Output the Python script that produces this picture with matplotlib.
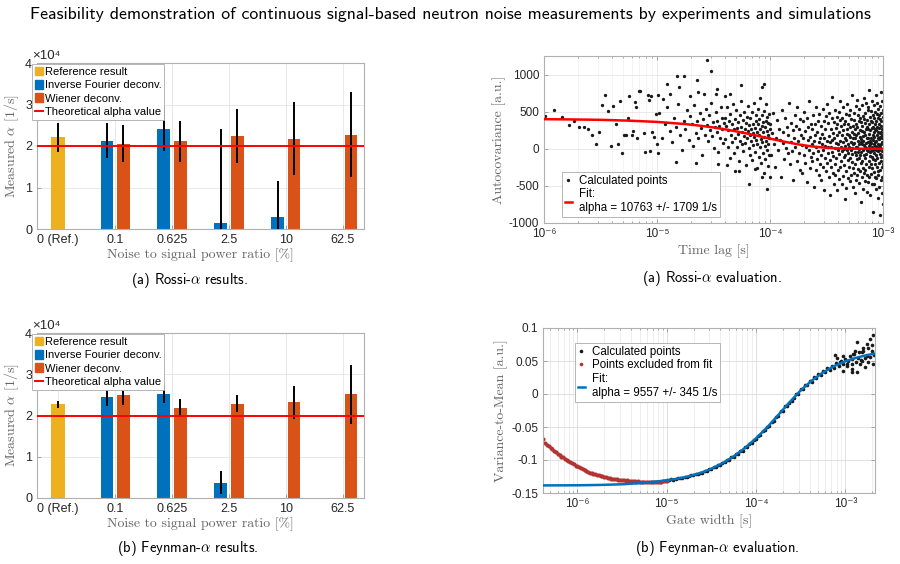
import numpy as np
import matplotlib
matplotlib.use("Agg")
import matplotlib.pyplot as plt
from matplotlib.ticker import FuncFormatter, LogLocator, NullFormatter, MultipleLocator
from matplotlib.lines import Line2D
from matplotlib.patches import Patch

plt.rcParams["font.family"] = ["Liberation Sans", "DejaVu Sans"]
plt.rcParams["mathtext.fontset"] = "cm"
plt.rcParams["axes.unicode_minus"] = False

# =========================
# DATA
# =========================

CATEGORIES = ["0 (Ref.)", "0.1", "0.625", "2.5", "10", "62.5"]
THEORY_ALPHA = 20000

# Rossi-alpha results [1/s]
rossi_ref, rossi_ref_err = 22100, 3500
rossi_ifd = [np.nan, 21300, 24000, 1500, 3000, np.nan]
rossi_ifd_err = [np.nan, 4300, 5300, 22500, 8600, np.nan]
rossi_wien = [np.nan, 20600, 21100, 22400, 21800, 22700]
rossi_wien_err = [np.nan, 4400, 5000, 6400, 8800, 10200]

# Feynman-alpha results [1/s]
feyn_ref, feyn_ref_err = 22700, 800
feyn_ifd = [np.nan, 24500, 25300, 3700, np.nan, np.nan]
feyn_ifd_err = [np.nan, 2200, 2200, 2800, np.nan, np.nan]
feyn_wien = [np.nan, 25000, 21900, 22900, 23200, 25100]
feyn_wien_err = [np.nan, 2400, 2200, 2100, 4000, 7200]

# Rossi-alpha evaluation: individually read points (log10 of lag, covariance)
rossi_sparse_lag_exp = [
    -5.99, -5.909, -5.84, -5.78, -5.735, -5.69, -5.646, -5.61, -5.573, -5.543,
    -5.513, -5.484, -5.457, -5.434, -5.41, -5.389, -5.365, -5.348, -5.33, -5.31,
    -5.292, -5.274, -5.257, -5.245, -5.224, -5.212, -5.197, -5.186, -5.174, -5.159,
    -5.148, -5.115, -5.106, -5.082, -5.068, -5.059, -5.05, -5.042, -5.024, -5.012,
    -5.003, -4.994, -4.988,
    -4.56, -4.525, -4.826, -4.758, -4.649, -4.803, -4.914, -4.944, -4.885, -4.708,
    -4.634, -4.581, -4.478, -4.472, -4.398, -4.354, -4.257, -4.068, -4.053,
    -4.832, -4.658, -4.457, -4.378, -4.31, -4.274, -4.19, -4.029, -4.073, -4.133,
]
rossi_sparse_cov = [
    441, 518, 428, 324, 370, 289, 289, 270, 189, 68,
    222, 594, 720, 505, 33, 580, 338, 60, 639, -53,
    185, 185, 410, 711, 189, 243, 630, 559, 141, 782,
    778, 212, -44, 728, 652, -30, 707, 226, 158, 464,
    68, -57, 720,
    1191, 1043, 976, 976, 922, 832, 876, 666, 742, 707,
    765, 742, 742, 809, 707, 734, 855, 832, 868,
    -178, -192, -205, -223, -304, -304, -471, -538, -380, -269,
]

# Rossi-alpha evaluation: covariance on the regular lag grid 1e-5 .. 1e-4 s
rossi_mid_cov = [
    480, 150, 330, 560, 240, 90, 420, 300, 610, 180,
    -20, 380, 260, 520, 120, 440, 330, 40, 590, 210,
    370, 150, 480, 280, -90, 400, 190, 530, 320, 100,
    450, 250, 620, 170, 360, 10, 290, 500, 220, 380,
    -40, 310, 140, 560, 260, 420, 80, 350,
    420, 130, 310, 560, 20, 250, 380, -120, 470, 190,
    330, 90, 610, 260, -60, 400, 150, 520, 280, 30,
    360, 200, -170, 450, 110, 300, 640, 60, 230, 390,
    -30, 170, 500, 270, 80, 350, -220, 430, 140, 240,
    580, 10, 320, 180, -90, 410, 260, 100, 490, -150,
    210, 340, 50, 620, 160, 280, -40, 380, 120, 460,
    -260, 230, 70, 330, 540, -110, 190, 400, 20, 270,
    680, 130, -190, 310, 90, 450, -60, 220, 360, -320,
    160, 510, 40, 290, -140, 380, 110, 600, -20, 240,
    430, -230, 180, 60, 350, -90, 470, 140, 270, -380,
]

# Rossi-alpha evaluation: covariance on the regular lag grid 1e-4 .. 1e-3 s
rossi_dense_cov = [
    340, -90, 210, 480, 60, -250, 150, 390, -20, 270, 120, -380, 520, 80, 230, -140, 410, 10, 300, -60,
    180, 620, -210, 90, 350, -30, 250, -420, 140, 460, 20, 310, -170, 560, 110, -60, 270, 400, -290, 190,
    50, -330, 380, 150, -80, 500, 240, -190, 30, 420, -450, 120, 290, -20, 640, -260, 160, 330, -110, 70,
    -170, 260, 450, -60, 100, -510, 340, 180, -280, 20, 560, -140, 230, -30, 380, -350, 90, 470, -200, 140,
    310, -90, -420, 200, 60, 530, -240, -10, 380, 150, -560, 270, -120, 40, 440, -300, 110, 600, -190, 20,
    -60, 350, -380, 170, 480, -150, 90, -620, 260, 30, -250, 410, 120, -40, 700, -330, 210, -100, 360, -470,
    140, -200, 520, 10, -350, 280, 80, -130, 430, -560, 190, 340, -20, -280, 60, 500, -410, 230, -70, 390,
    -240, 110, 650, -160, 20, 310, -480, 180, -30, 420, 250, -370, 90, 560, -110, 0, 330, -220, 150, -680,
    380, -90, 40, -300, 470, 120, -530, 260, -10, 200, 610, -150, -390, 70, 340, -60, 180, -250, 450, 30,
    -120, 290, -440, 160, 520, -20, 90, -360, 400, 230, -180, 730, -70, 10, -510, 310, 140, -260, 60, 480,
    200, -330, 80, 390, -40, -600, 260, 140, -210, 570, 30, -90, 340, -420, 180, 660, -140, 20, 300, -350,
    -50, 450, 110, -270, 210, 70, -460, 380, -130, 530, 0, -300, 160, 420, -80, 250, -720, 90, 360, -190,
    130, -40, 590, -380, 240, 60, -160, 310, -540, 170, 440, -20, -260, 100, 680, -330, 220, -90, 50, 400,
    -280, 190, 30, 480, -120, 350, -430, 80, 260, -70, 620, -200, 10, 390, -580, 150, -10, 300, -350, 520,
    90, -450, 270, 140, -30, 560, -240, 330, 40, -160, 790, -380, 200, 60, -100, 430, -620, 250, 110, -50,
    370, -200, -30, 510, 150, -340, 80, 280, -480, 20, 360, -110, 640, -260, 190, -10, 450, -850, 120, 300,
    -140, 420, 60, -310, 230, 590, -60, -470, 160, 340, -200, 40, 500, -380, 270, 90, -150, 720, -20, -540,
    250, -80, 380, 110, -400, 180, 470, -240, 30, 620, -130, 300, -660, 70, 220, -30, 410, -300, 150, 540,
    -360, 130, -10, 450, -190, 280, 50, -520, 340, 160, -70, 580, -290, 210, -890, 400, 20, -160, 310, 760,
    60, -420, 230, 480, -110, 370, -250, 140, -30, 650, -380, 90, 260, -600, 180, 430, -80, -210, 520, -740,
]

rossi_fit_lag_exp = [-6.0, -5.75, -5.5, -5.25, -5.0, -4.75, -4.625, -4.5, -4.375, -4.25,
                     -4.125, -4.0, -3.875, -3.75, -3.625, -3.5, -3.375, -3.25, -3.0]
rossi_fit_cov = [399, 395, 390, 379, 362, 333, 312, 287, 256, 220,
                 180, 137, 96, 59, 31, 13, 4, 1, 0]

# Feynman-alpha evaluation: excluded points, gate widths log-spaced 10^-6.38 .. 10^-5
feyn_excl_vtm = [
    -0.0675, -0.0748, -0.0775, -0.0792, -0.0819, -0.0835, -0.0862, -0.0879, -0.0907, -0.0924, -0.0948,
    -0.0960, -0.0982, -0.0994, -0.1017, -0.1029, -0.1052, -0.1063, -0.1085, -0.1093, -0.1112,
    -0.1120, -0.1139, -0.1147, -0.1166, -0.1175, -0.1192,
    -0.1198, -0.1211, -0.1213, -0.1226, -0.1229, -0.1241, -0.1244, -0.1256, -0.1258, -0.1270,
    -0.1275, -0.1286, -0.1284, -0.1295, -0.1293, -0.1303, -0.1301, -0.1309, -0.1306,
    -0.1313, -0.1309, -0.1318, -0.1314, -0.1322, -0.1318, -0.1326, -0.1322, -0.1329,
    -0.1326, -0.1333, -0.1328, -0.1335, -0.1330, -0.1336, -0.1331, -0.1337, -0.1330, -0.1334,
    -0.1327, -0.1330, -0.1322, -0.1325, -0.1317,
]

# Feynman-alpha evaluation: calculated points, gate widths log-spaced 10^-5 .. 10^-2.675
feyn_calc_vtm = [
    -0.1304, -0.1309, -0.1295, -0.1297, -0.1291, -0.1279, -0.1278, -0.1266, -0.1265, -0.1250,
    -0.1249, -0.1234, -0.1232, -0.1216, -0.1213, -0.1195, -0.1191, -0.1170, -0.1166, -0.1141,
    -0.1137, -0.1111, -0.1107, -0.1076, -0.1072, -0.1041, -0.1035, -0.1002, -0.0995, -0.0958,
    -0.0952, -0.0912, -0.0905, -0.0863, -0.0858, -0.0810, -0.0801, -0.0752, -0.0745, -0.0692,
    -0.0683, -0.0630, -0.0619, -0.0563, -0.0552, -0.0494, -0.0480, -0.0418, -0.0404, -0.0343,
    -0.0330, -0.0263, -0.0258, -0.0184, -0.0178, -0.0140, -0.0103, -0.0068, 0.0006, 0.0004,
    0.0075, 0.0070, 0.0141, 0.0130, 0.0198, 0.0188, 0.0262, 0.0241, 0.0305, 0.0286,
    0.0352, 0.0335, 0.0396, 0.0370, 0.0431, 0.0392, 0.0468, 0.0425, 0.0494, 0.0455,
    0.0530, 0.0462, 0.0571, 0.0448, 0.0603, 0.0492, 0.0636, 0.0514, 0.0658, 0.0542,
    0.0697, 0.0560, 0.0738, 0.0584,
]

# scattered tail points read individually
feyn_tail_lag_exp = [-3.115, -3.096, -3.059, -3.022, -2.984, -2.966, -2.929, -2.910, -2.891, -2.872,
                     -2.854, -2.835, -2.817, -2.798, -2.779, -2.760, -2.742, -2.723, -2.705, -2.693,
                     -2.686, -2.760, -2.872, -3.020, -2.930, -2.817, -2.929]
feyn_tail_vtm = [0.0589, 0.0539, 0.0478, 0.0569, 0.0426, 0.0502, 0.0376, 0.0604, 0.0655, 0.0782,
                 0.0539, 0.0452, 0.0630, 0.0691, 0.0402, 0.0757, 0.0478, 0.0833, 0.0655, 0.0893,
                 0.0452, 0.0579, 0.0326, 0.0350, 0.0330, 0.0502, 0.0528]

feyn_fit_lag_exp = [-6.385, -6.0, -5.75, -5.5, -5.25, -5.0, -4.875, -4.75, -4.625, -4.5,
                    -4.375, -4.25, -4.125, -4.0, -3.875, -3.75, -3.625, -3.5, -3.375, -3.25,
                    -3.125, -3.0, -2.875, -2.75, -2.667]
feyn_fit_vtm = [-0.1385, -0.1383, -0.1378, -0.1368, -0.1346, -0.1308, -0.1282, -0.1246, -0.1198, -0.1132,
                -0.1048, -0.0945, -0.0819, -0.0672, -0.0505, -0.0317, -0.0126, 0.0054, 0.0203, 0.0326,
                0.0422, 0.0495, 0.0550, 0.0592, 0.0613]


# =========================
# STYLE
# =========================

C_BLUE = "#0072BD"
C_ORANGE = "#D95319"
C_YELLOW = "#EDB120"
C_EXCL = "#b33333"
SPINE = "#b0b0b0"
TICKLBL = "#262626"
LABEL = "#666666"

SUP = str.maketrans("-0123456789", "⁻⁰¹²³⁴⁵⁶⁷⁸⁹")


def pow10(v, pos):
    return "10" + str(int(round(np.log10(v)))).translate(SUP)


def style_axes(ax, tick_size):
    for s in ax.spines.values():
        s.set_color(SPINE)
        s.set_linewidth(0.8)
    ax.tick_params(which="both", direction="in", color="#888888", width=0.5,
                   labelsize=tick_size, labelcolor=TICKLBL, top=True, right=True)
    ax.tick_params(which="major", length=3)
    ax.tick_params(which="minor", length=1.5)
    ax.set_axisbelow(True)


def bar_panel(ax, ref, ref_err, ifd, ifd_err, wien, wien_err):
    x = np.arange(len(CATEGORIES))
    off, w = 0.145, 0.22
    ax.bar(0, ref, width=0.26, color=C_YELLOW, label="Reference result", zorder=2)
    ax.bar(x - off, ifd, width=w, color=C_BLUE, label="Inverse Fourier deconv.", zorder=2)
    ax.bar(x + off, wien, width=w, color=C_ORANGE, label="Wiener deconv.", zorder=2)
    ax.errorbar(0, ref, yerr=ref_err, fmt="none", ecolor="k", elinewidth=1.4, zorder=3)
    ax.errorbar(x - off, ifd, yerr=ifd_err, fmt="none", ecolor="k", elinewidth=1.4, zorder=3)
    ax.errorbar(x + off, wien, yerr=wien_err, fmt="none", ecolor="k", elinewidth=1.4, zorder=3)
    ax.axhline(THEORY_ALPHA, color="red", lw=1.4, label="Theoretical alpha value", zorder=4)

    ax.set_xlim(-0.37, 5.37)
    ax.set_ylim(0, 40000)
    ax.set_xticks(x)
    ax.set_xticklabels(CATEGORIES)
    ax.yaxis.set_major_locator(MultipleLocator(10000))
    ax.yaxis.set_major_formatter(FuncFormatter(lambda v, p: f"{v / 1e4:g}"))
    style_axes(ax, 9)
    ax.tick_params(top=False, right=False)
    ax.grid(True, color="#e4e4e4", lw=0.6)
    ax.text(-0.015, 1.005, "×10⁴", transform=ax.transAxes, ha="left", va="bottom",
            fontsize=9.5, color=TICKLBL)
    ax.set_xlabel("Noise to signal power ratio [%]", family="cmr10", fontsize=10,
                  color=LABEL, labelpad=2)
    ax.set_ylabel(r"Measured $\alpha$ [1/s]", family="cmr10", fontsize=10,
                  color=LABEL, labelpad=3)

    handles = [Patch(color=C_YELLOW), Patch(color=C_BLUE), Patch(color=C_ORANGE),
               Line2D([], [], color="red", lw=1.4)]
    labels = ["Reference result", "Inverse Fourier deconv.", "Wiener deconv.",
              "Theoretical alpha value"]
    leg = ax.legend(handles, labels, loc="upper left", bbox_to_anchor=(-0.015, 0.995),
                    fontsize=8, handlelength=0.7, handleheight=0.8, handletextpad=0.2,
                    labelspacing=0.3, borderpad=0.25, borderaxespad=0, fancybox=False,
                    framealpha=1)
    leg.get_frame().set_edgecolor("#aaaaaa")
    leg.get_frame().set_linewidth(0.6)
    leg.set_zorder(10)


# =========================
# FIGURE
# =========================

fig = plt.figure(figsize=(9, 5.64), dpi=100)

fig.text(0.5, 1 - 14 / 564,
         "Feasibility demonstration of continuous signal-based neutron noise measurements "
         "by experiments and simulations",
         family="cmss10", fontsize=12.8, ha="center", va="center")

# --- (a) Rossi-alpha results
ax1 = fig.add_axes([37 / 900, 1 - 229 / 564, 327 / 900, 166 / 564])
bar_panel(ax1, rossi_ref, rossi_ref_err, rossi_ifd, rossi_ifd_err, rossi_wien, rossi_wien_err)

# --- (b) Feynman-alpha results
ax3 = fig.add_axes([37 / 900, 1 - 498 / 564, 327 / 900, 165 / 564])
bar_panel(ax3, feyn_ref, feyn_ref_err, feyn_ifd, feyn_ifd_err, feyn_wien, feyn_wien_err)

# --- (a) Rossi-alpha evaluation
ax2 = fig.add_axes([544 / 900, 1 - 223 / 564, 339 / 900, 167 / 564])
rossi_sparse_lag = 10 ** np.array(rossi_sparse_lag_exp)
rossi_mid_lag = np.linspace(1.05e-5, 1.0e-4, len(rossi_mid_cov))
rossi_dense_lag = np.linspace(1.0e-4, 1.0e-3, len(rossi_dense_cov))
pt = dict(ls="none", marker="o", ms=2.4, mew=0, color="#1a1a1a", zorder=2)
ax2.plot(rossi_sparse_lag, rossi_sparse_cov, **pt)
ax2.plot(rossi_mid_lag, rossi_mid_cov, **pt)
ax2.plot(rossi_dense_lag, rossi_dense_cov, **pt)
ax2.plot(10 ** np.array(rossi_fit_lag_exp), rossi_fit_cov, color="red", lw=1.8, zorder=3)
ax2.set_xscale("log")
ax2.set_xlim(1e-6, 1e-3)
ax2.set_ylim(-1000, 1250)
ax2.yaxis.set_major_locator(MultipleLocator(500))
ax2.xaxis.set_major_locator(LogLocator(base=10))
ax2.xaxis.set_minor_locator(LogLocator(base=10, subs=np.arange(2, 10)))
ax2.xaxis.set_major_formatter(FuncFormatter(pow10))
ax2.xaxis.set_minor_formatter(NullFormatter())
style_axes(ax2, 8.5)
ax2.grid(True, which="major", color="#e6e6e6", lw=0.6)
ax2.grid(True, which="minor", axis="x", color="#f0f0f0", lw=0.5)
ax2.set_xlabel("Time lag [s]", family="cmr10", fontsize=10, color=LABEL, labelpad=3)
ax2.set_ylabel("Autocovariance [a.u.]", family="cmr10", fontsize=10, color=LABEL, labelpad=2)
h_pts = Line2D([], [], ls="none", marker="o", ms=2.4, mew=0, color="#1a1a1a")
h_fit = Line2D([], [], color="red", lw=1.8)
leg2 = ax2.legend([h_pts, h_fit], ["Calculated points", "Fit:\nalpha = 10763 +/- 1709 1/s"],
                  loc="lower left", bbox_to_anchor=(0.053, 0.036), fontsize=8.3,
                  handlelength=0.6, handletextpad=0.6, labelspacing=0.15, borderpad=0.25,
                  borderaxespad=0, fancybox=False, framealpha=1)
leg2.get_frame().set_edgecolor("#aaaaaa")
leg2.get_frame().set_linewidth(0.6)

# --- (b) Feynman-alpha evaluation
ax4 = fig.add_axes([543 / 900, 1 - 493 / 564, 332 / 900, 165 / 564])
feyn_excl_gate = np.logspace(-6.38, -5.0, len(feyn_excl_vtm))
feyn_calc_gate = np.logspace(-5.0, -2.675, len(feyn_calc_vtm))
ax4.plot(feyn_calc_gate, feyn_calc_vtm, ls="none", marker="o", ms=2.6, mew=0,
         color="#1a1a1a", zorder=2)
ax4.plot(10 ** np.array(feyn_tail_lag_exp), feyn_tail_vtm, ls="none", marker="o", ms=2.6,
         mew=0, color="#1a1a1a", zorder=2)
ax4.plot(feyn_excl_gate, feyn_excl_vtm, ls="none", marker="o", ms=3.0, mew=0,
         color=C_EXCL, zorder=2)
ax4.plot(10 ** np.array(feyn_fit_lag_exp), feyn_fit_vtm, color=C_BLUE, lw=1.8, zorder=3)
ax4.set_xscale("log")
ax4.set_xlim(10 ** -6.385, 10 ** -2.667)
ax4.set_ylim(-0.15, 0.1)
ax4.yaxis.set_major_locator(MultipleLocator(0.05))
ax4.yaxis.set_major_formatter(FuncFormatter(lambda v, p: f"{v:g}"))
ax4.xaxis.set_major_locator(LogLocator(base=10))
ax4.xaxis.set_minor_locator(LogLocator(base=10, subs=np.arange(2, 10)))
ax4.xaxis.set_major_formatter(FuncFormatter(pow10))
ax4.xaxis.set_minor_formatter(NullFormatter())
style_axes(ax4, 8.5)
ax4.grid(True, which="major", color="#dcdcdc", lw=0.6)
ax4.grid(True, which="minor", axis="x", color="#e8e8e8", lw=0.5)
ax4.set_xlabel("Gate width [s]", family="cmr10", fontsize=10, color=LABEL, labelpad=3)
ax4.set_ylabel("Variance-to-Mean [a.u.]", family="cmr10", fontsize=10, color=LABEL, labelpad=2)
h_calc = Line2D([], [], ls="none", marker="o", ms=2.6, mew=0, color="#1a1a1a")
h_excl = Line2D([], [], ls="none", marker="o", ms=2.6, mew=0, color=C_EXCL)
h_bfit = Line2D([], [], color=C_BLUE, lw=1.8)
leg4 = ax4.legend([h_calc, h_excl, h_bfit],
                  ["Calculated points", "Points excluded from fit", "Fit:\nalpha = 9557 +/- 345 1/s"],
                  loc="upper left", bbox_to_anchor=(0.096, 0.91), fontsize=8.3,
                  handlelength=0.6, handletextpad=0.6, labelspacing=0.15, borderpad=0.25,
                  borderaxespad=0, fancybox=False, framealpha=1)
leg4.get_frame().set_edgecolor("#aaaaaa")
leg4.get_frame().set_linewidth(0.6)

# --- sub-captions
cap = dict(family="cmss10", fontsize=10.5, ha="center", va="center")
fig.text(189 / 900, 1 - 280 / 564, r"(a) Rossi-$\alpha$ results.", **cap)
fig.text(712 / 900, 1 - 278 / 564, r"(a) Rossi-$\alpha$ evaluation.", **cap)
fig.text(188 / 900, 1 - 548 / 564, r"(b) Feynman-$\alpha$ results.", **cap)
fig.text(717 / 900, 1 - 549 / 564, r"(b) Feynman-$\alpha$ evaluation.", **cap)

fig.savefig("out.png", dpi=100)
